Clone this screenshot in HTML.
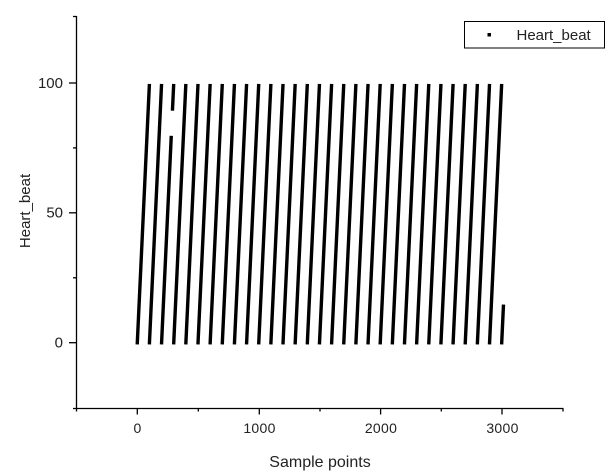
<!DOCTYPE html>
<html>
<head>
<meta charset="utf-8">
<style>
html,body{margin:0;padding:0;background:#fff;}
svg{display:block;}
text{font-family:"Liberation Sans",Arial,sans-serif;fill:#222;}
</style>
</head>
<body>
<svg width="616" height="476" viewBox="0 0 616 476" xmlns="http://www.w3.org/2000/svg">
<rect width="616" height="476" fill="#fff"/>
<!-- data stripes -->
<path fill="none" stroke="#000" stroke-width="3.4" stroke-linecap="square" d="
M137.30 342.7 l12.03 -257.1
M149.45 342.7 l12.03 -257.1
M161.59 342.7 L171.19 137.5 M172.52 109.0 L173.62 85.6
M173.74 342.7 l12.03 -257.1
M185.89 342.7 l12.03 -257.1
M198.04 342.7 l12.03 -257.1
M210.18 342.7 l12.03 -257.1
M222.33 342.7 l12.03 -257.1
M234.48 342.7 l12.03 -257.1
M246.62 342.7 l12.03 -257.1
M258.77 342.7 l12.03 -257.1
M270.92 342.7 l12.03 -257.1
M283.06 342.7 l12.03 -257.1
M295.21 342.7 l12.03 -257.1
M307.36 342.7 l12.03 -257.1
M319.51 342.7 l12.03 -257.1
M331.65 342.7 l12.03 -257.1
M343.80 342.7 l12.03 -257.1
M355.95 342.7 l12.03 -257.1
M368.09 342.7 l12.03 -257.1
M380.24 342.7 l12.03 -257.1
M392.39 342.7 l12.03 -257.1
M404.53 342.7 l12.03 -257.1
M416.68 342.7 l12.03 -257.1
M428.83 342.7 l12.03 -257.1
M440.98 342.7 l12.03 -257.1
M453.12 342.7 l12.03 -257.1
M465.27 342.7 l12.03 -257.1
M477.42 342.7 l12.03 -257.1
M489.56 342.7 l12.03 -257.1
M501.71 342.7 L503.41 306.3
"/>
<!-- axes -->
<g stroke="#000" stroke-width="1.3" fill="none">
<line x1="76.5" y1="16" x2="76.5" y2="408.5"/>
<line x1="73" y1="408.5" x2="563.5" y2="408.5"/>
<line x1="69" y1="83" x2="76.5" y2="83"/>
<line x1="69" y1="212.8" x2="76.5" y2="212.8"/>
<line x1="69" y1="342.7" x2="76.5" y2="342.7"/>
<line x1="73" y1="16.5" x2="76.5" y2="16.5"/>
<line x1="73" y1="147.9" x2="76.5" y2="147.9"/>
<line x1="73" y1="277.8" x2="76.5" y2="277.8"/>
<line x1="137.3" y1="408.5" x2="137.3" y2="414.5"/>
<line x1="259.3" y1="408.5" x2="259.3" y2="414.5"/>
<line x1="380.6" y1="408.5" x2="380.6" y2="414.5"/>
<line x1="502" y1="408.5" x2="502" y2="414.5"/>
<line x1="76.5" y1="408.5" x2="76.5" y2="411.5"/>
<line x1="198.3" y1="408.5" x2="198.3" y2="411.5"/>
<line x1="320" y1="408.5" x2="320" y2="411.5"/>
<line x1="441.3" y1="408.5" x2="441.3" y2="411.5"/>
<line x1="563" y1="408.5" x2="563" y2="411.5"/>
</g>
<!-- y tick labels -->
<g font-size="15" text-anchor="end">
<text x="63" y="88">100</text>
<text x="63" y="217.5">50</text>
<text x="63" y="347.5">0</text>
</g>
<!-- x tick labels -->
<g font-size="14" text-anchor="middle" letter-spacing="0.3">
<text x="137.5" y="433">0</text>
<text x="259.5" y="433">1000</text>
<text x="381" y="433">2000</text>
<text x="502.5" y="433">3000</text>
</g>
<!-- axis titles -->
<text x="320" y="467" font-size="16" text-anchor="middle">Sample points</text>
<text transform="translate(30,211) rotate(-90)" font-size="15" text-anchor="middle">Heart_beat</text>
<!-- legend -->
<rect x="464.5" y="21.5" width="140" height="26.5" fill="#fff" stroke="#000" stroke-width="1"/>
<rect x="487.5" y="33" width="3.5" height="3.5" fill="#000"/>
<text x="516.5" y="40" font-size="15" fill="#111">Heart_beat</text>
</svg>
</body>
</html>
